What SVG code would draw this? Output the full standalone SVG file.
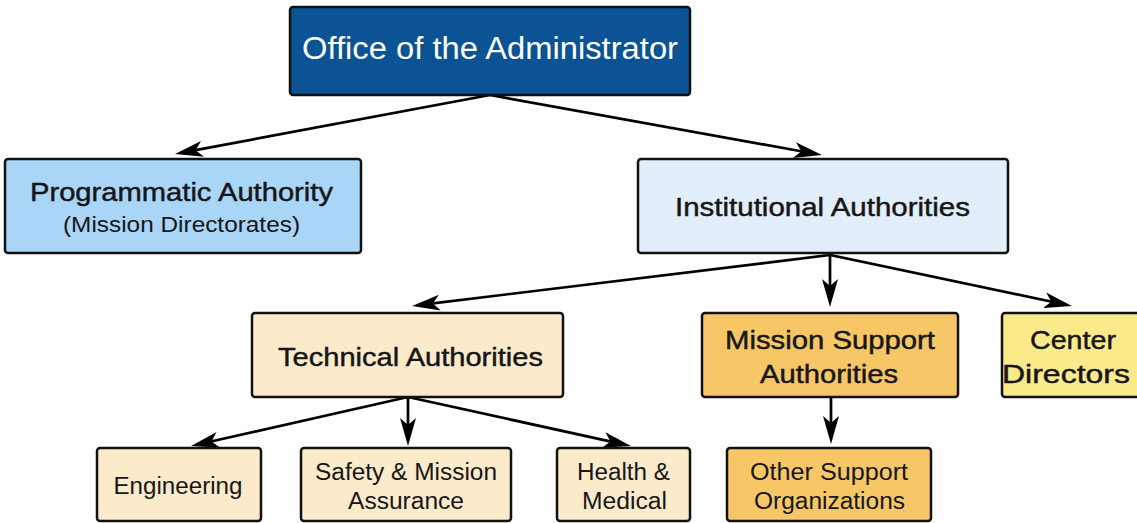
<svg xmlns="http://www.w3.org/2000/svg" width="1137" height="523" viewBox="0 0 1137 523">
<style>
.box{stroke:#111;stroke-width:2.5}
.t{font-family:"Liberation Sans",Arial,sans-serif;fill:#161616;text-anchor:middle}
.m{stroke:#161616;stroke-width:0.45}
.w{fill:#fff}
.edge{stroke:#000;stroke-width:2.7;fill:none}
</style>
<defs>
<marker id="ah" viewBox="0 0 28 18" refX="11" refY="9" markerWidth="28" markerHeight="18" markerUnits="userSpaceOnUse" orient="auto">
<path d="M28,9 L0,1 L7,9 L0,17 Z" fill="#000"/>
</marker>
</defs>
<rect width="1137" height="523" fill="#fff"/>
<g id="connectors">
<line class="edge" x1="490" y1="95" x2="191.7" y2="150.9" marker-end="url(#ah)"/>
<line class="edge" x1="490" y1="95" x2="805.3" y2="152" marker-end="url(#ah)"/>
<line class="edge" x1="830" y1="255" x2="428.9" y2="303.9" marker-end="url(#ah)"/>
<line class="edge" x1="830" y1="255" x2="830" y2="290" marker-end="url(#ah)"/>
<line class="edge" x1="830" y1="255" x2="1055.3" y2="302.5" marker-end="url(#ah)"/>
<line class="edge" x1="408" y1="397" x2="207.6" y2="442.3" marker-end="url(#ah)"/>
<line class="edge" x1="408" y1="397" x2="408" y2="429" marker-end="url(#ah)"/>
<line class="edge" x1="408" y1="397" x2="614.4" y2="442.4" marker-end="url(#ah)"/>
<line class="edge" x1="831" y1="397" x2="831" y2="427" marker-end="url(#ah)"/>
</g>
<g id="office">
<rect class="box" x="290" y="7" width="400" height="88" rx="3" fill="#0B5394"/>
<text class="t w" x="490" y="59" font-size="31" textLength="376" lengthAdjust="spacingAndGlyphs">Office of the Administrator</text>
</g>
<g id="programmatic">
<rect class="box" x="5" y="159" width="356" height="94" rx="3" fill="#A9D5F7"/>
<text class="t m" x="181.5" y="201" font-size="26" textLength="303" lengthAdjust="spacingAndGlyphs">Programmatic Authority</text>
<text class="t" x="181.5" y="232" font-size="22" textLength="237" lengthAdjust="spacingAndGlyphs">(Mission Directorates)</text>
</g>
<g id="institutional">
<rect class="box" x="638" y="159" width="370" height="94" rx="3" fill="#E2EEFA"/>
<text class="t m" x="822.5" y="216" font-size="26" textLength="295" lengthAdjust="spacingAndGlyphs">Institutional Authorities</text>
</g>
<g id="technical">
<rect class="box" x="252" y="313" width="311" height="84" rx="3" fill="#FCEBCB"/>
<text class="t m" x="410.5" y="366" font-size="26" textLength="265" lengthAdjust="spacingAndGlyphs">Technical Authorities</text>
</g>
<g id="mission-support">
<rect class="box" x="702" y="313" width="256" height="84" rx="3" fill="#F6C667"/>
<text class="t m" x="830" y="349" font-size="26" textLength="210" lengthAdjust="spacingAndGlyphs">Mission Support</text>
<text class="t m" x="829" y="383" font-size="26" textLength="138" lengthAdjust="spacingAndGlyphs">Authorities</text>
</g>
<g id="center-directors">
<rect class="box" x="1002" y="313" width="145" height="84" rx="3" fill="#FAEA8A"/>
<text class="t m" x="1073" y="349" font-size="26" textLength="86" lengthAdjust="spacingAndGlyphs">Center</text>
<text class="t m" x="1066" y="383" font-size="26" textLength="128" lengthAdjust="spacingAndGlyphs">Directors</text>
</g>
<g id="engineering">
<rect class="box" x="97" y="448" width="164" height="73" rx="3" fill="#FCEBCB"/>
<text class="t" x="178" y="494" font-size="23" textLength="129" lengthAdjust="spacingAndGlyphs">Engineering</text>
</g>
<g id="safety">
<rect class="box" x="301" y="448" width="210" height="73" rx="3" fill="#FCEBCB"/>
<text class="t" x="406" y="480" font-size="23" textLength="182" lengthAdjust="spacingAndGlyphs">Safety &amp; Mission</text>
<text class="t" x="406" y="509" font-size="23" textLength="116" lengthAdjust="spacingAndGlyphs">Assurance</text>
</g>
<g id="health">
<rect class="box" x="557" y="448" width="133" height="73" rx="3" fill="#FCEBCB"/>
<text class="t" x="623.5" y="480" font-size="23" textLength="93" lengthAdjust="spacingAndGlyphs">Health &amp;</text>
<text class="t" x="624.5" y="509" font-size="23" textLength="85" lengthAdjust="spacingAndGlyphs">Medical</text>
</g>
<g id="other-support">
<rect class="box" x="727" y="448" width="204" height="73" rx="3" fill="#F6C667"/>
<text class="t" x="829" y="480" font-size="23" textLength="158" lengthAdjust="spacingAndGlyphs">Other Support</text>
<text class="t" x="829.5" y="509" font-size="23" textLength="151" lengthAdjust="spacingAndGlyphs">Organizations</text>
</g>
</svg>
